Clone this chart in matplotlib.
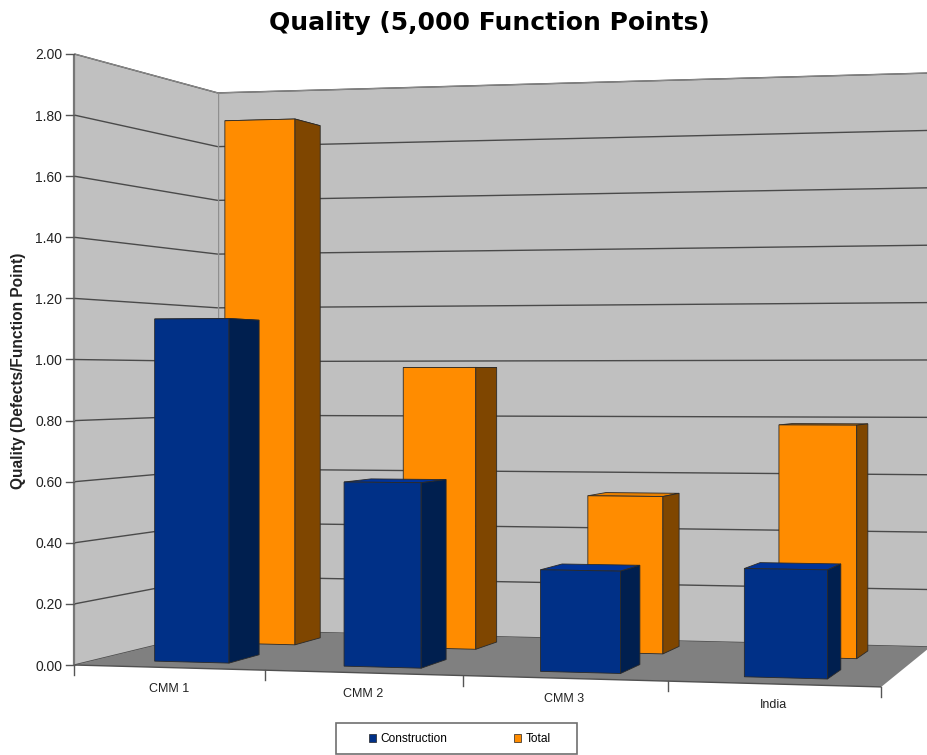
import numpy as np
import matplotlib
matplotlib.use("Agg")
import matplotlib.pyplot as plt
from matplotlib.patches import Patch, Polygon, Rectangle

# chart values
categories = ["CMM 1", "CMM 2", "CMM 3", "India"]
construction = [1.135, 0.60, 0.325, 0.34]
total = [1.85, 0.975, 0.535, 0.78]
y_ticks = [0.0, 0.2, 0.4, 0.6, 0.8, 1.0, 1.2, 1.4, 1.6, 1.8, 2.0]

plt.rcParams["font.family"] = ["Liberation Sans", "DejaVu Sans"]

# camera fit: (category pos, value, depth) -> pixel of the box corners
calib = [
    (0, 0, 0, 74, 663), (0, 0, 1, 218, 632), (4, 0, 0, 882, 688), (4, 0, 1, 930, 646),
    (0, 2, 0, 74, 55), (0, 2, 1, 218, 92), (4, 2, 1, 930, 73),
]
rows, rhs = [], []
for X, Y, Z, px, py in calib:
    rows.append([X, Z, 1, 0, 0, 0, 0, -px * X, -px * Z])
    rhs.append(px)
    rows.append([0, 0, 0, X, Y, Z, 1, -py * X, -py * Z])
    rhs.append(py)
cam = np.linalg.lstsq(np.array(rows, float), np.array(rhs, float), rcond=None)[0]


def project(X, Y, Z):
    w = cam[7] * X + cam[8] * Z + 1
    return ((cam[0] * X + cam[1] * Z + cam[2]) / w,
            (cam[3] * X + cam[4] * Y + cam[5] * Z + cam[6]) / w)


fig = plt.figure(figsize=(9.27, 7.55), dpi=100)
ax = fig.add_axes([0, 0, 1, 1])
ax.set_xlim(0, 927)
ax.set_ylim(755, 0)
ax.axis("off")


def face(pts, fc, ec="#2a2a2a", lw=0.6, z=2):
    ax.add_patch(Polygon([project(*p) for p in pts], closed=True, fc=fc, ec=ec, lw=lw, zorder=z))


def line(pts, color, lw=1.0, z=1.5):
    xy = [project(*p) for p in pts]
    ax.plot([p[0] for p in xy], [p[1] for p in xy], color=color, lw=lw, zorder=z,
            solid_capstyle="butt")


# walls and floor
face([(0, 0, 0), (0, 2, 0), (0, 2, 1), (0, 0, 1)], "#C0C0C0", ec="none", z=1)
face([(0, 0, 1), (0, 2, 1), (4, 2, 1), (4, 0, 1)], "#C0C0C0", ec="none", z=1)
for v in y_ticks:
    line([(0, v, 0), (0, v, 1), (4, v, 1)], "#4a4a4a", lw=1.0)
    x0, y0 = project(0, v, 0)
    ax.plot([x0 - 8, x0], [y0, y0], color="#555555", lw=1.0)
    ax.text(x0 - 12, y0 + 1.5, f"{v:.2f}", ha="right", va="center", fontsize=10, color="#222222")
face([(0, 0, 0), (4, 0, 0), (4, 0, 1), (0, 0, 1)], "#808080", ec="none", z=1.6)
line([(0, 2, 0), (0, 2, 1), (4, 2, 1)], "#8a8a8a", lw=0.8)
line([(0, 0, 1), (0, 2, 1)], "#8f8f8f", lw=1.0)
line([(0, 0, 0), (0, 2, 0)], "#777777", lw=1.6)
line([(0, 0, 0), (4, 0, 0)], "#505050", lw=1.0, z=1.7)

# category ticks and labels
for i in range(len(categories) + 1):
    x0, y0 = project(i, 0, 0)
    ax.plot([x0, x0], [y0, y0 + 10], color="#555555", lw=1.0)
for i, name in enumerate(categories):
    x0, y0 = project(i + 0.5, 0, 0)
    ax.text(x0, y0 + 21, name, ha="center", va="center", fontsize=9, color="#222222")


def bar(i, value, z0, z1, front, side, top, order):
    x0, x1 = i + 0.313, i + 0.71
    face([(x0, value, z0), (x1, value, z0), (x1, value, z1), (x0, value, z1)], top, z=order)
    face([(x0, 0, z0), (x1, 0, z0), (x1, value, z0), (x0, value, z0)], front, z=order + 0.1)
    face([(x1, 0, z0), (x1, 0, z1), (x1, value, z1), (x1, value, z0)], side, z=order + 0.1)


for i, value in enumerate(total):
    bar(i, value, 0.64, 0.85, "#FF8C00", "#7F4600", "#E88000", 2)
for i, value in enumerate(construction):
    bar(i, value, 0.14, 0.36, "#003087", "#001F4F", "#003399", 3)

# titles
ax.text(489, 23, "Quality (5,000 Function Points)", ha="center", va="center", fontsize=18,
        fontweight="bold", color="black", family="DejaVu Sans")
ax.text(19, 371, "Quality (Defects/Function Point)", rotation=90, ha="center", va="center",
        fontsize=11.2, fontweight="bold", color="#222222")

# legend: frame drawn on its own, the bottom sits on the image edge
ax.add_patch(Rectangle((336, 723), 241, 31, fc="white", ec="#707070", lw=1.2, zorder=4))
handles = [Patch(fc="#003087", ec="#222222", lw=0.5, label="Construction"),
           Patch(fc="#FF8C00", ec="#222222", lw=0.5, label="Total")]
leg = ax.legend(handles=handles, ncol=2, loc="center left", bbox_to_anchor=(369 / 927, 1 - 739 / 755),
                borderaxespad=0, fontsize=8.6, frameon=False, handlelength=0.6, handleheight=0.7,
                handletextpad=0.35, columnspacing=5.6, borderpad=0)
leg.set_zorder(5)

fig.savefig("out.png", dpi=100)
